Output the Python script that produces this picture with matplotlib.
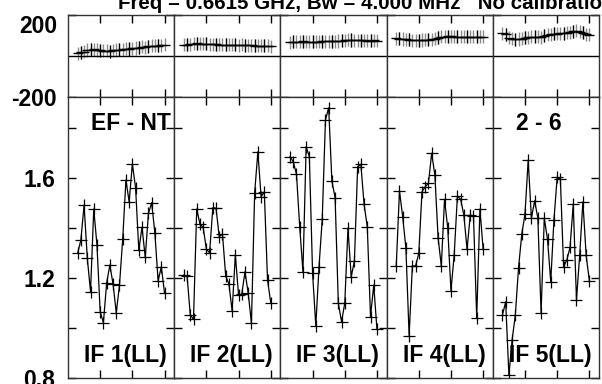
import numpy as np
import matplotlib
matplotlib.use("Agg")
import matplotlib.pyplot as plt

plt.rcParams['font.family'] = ['Liberation Sans', 'DejaVu Sans']
plt.rcParams['font.weight'] = 'bold'
plt.rcParams['axes.unicode_minus'] = False

title = "Freq = 0.6615 GHz, Bw = 4.000 MHz   No calibration applied"
baseline_label = ["EF - NT", "", "", "", "2 - 6"]
if_labels = ["IF 1(LL)", "IF 2(LL)", "IF 3(LL)", "IF 4(LL)", "IF 5(LL)"]

times = np.arange(28)

amp_if1 = [1.299, 1.352, 1.492, 1.279, 1.145, 1.476, 1.332, 1.065, 1.021, 1.179,
           1.252, 1.176, 1.061, 1.172, 1.356, 1.592, 1.505, 1.656, 1.561, 1.312,
           1.403, 1.283, 1.459, 1.501, 1.379, 1.189, 1.245, 1.139]
amp_if2 = [1.212, 1.208, 1.052, 1.035, 1.476, 1.416, 1.403, 1.315, 1.301, 1.481,
           1.479, 1.365, 1.376, 1.208, 1.176, 1.069, 1.292, 1.132, 1.136, 1.225,
           1.139, 1.019, 1.541, 1.705, 1.525, 1.545, 1.192, 1.101]
amp_if3 = [1.685, 1.665, 1.615, 1.405, 1.225, 1.725, 1.685, 1.219, 1.009, 1.245,
           1.436, 1.832, 1.881, 1.588, 1.521, 1.099, 1.025, 1.099, 1.399, 1.205,
           1.268, 1.645, 1.655, 1.495, 1.405, 1.045, 1.172, 0.995]
amp_if4 = [1.248, 1.548, 1.445, 1.319, 0.968, 1.248, 1.248, 1.299, 1.545, 1.565,
           1.579, 1.699, 1.612, 1.361, 1.248, 1.515, 1.399, 1.149, 1.292, 1.528,
           1.515, 1.452, 1.315, 1.452, 1.448, 1.039, 1.476, 1.315]
amp_if5 = [1.052, 1.105, 0.812, 0.952, 1.052, 1.241, 1.375, 1.456, 1.672, 1.439,
           1.509, 1.439, 1.061, 1.439, 1.355, 1.185, 1.432, 1.603, 1.595, 1.245,
           1.272, 1.323, 1.496, 1.112, 1.292, 1.505, 1.292, 1.189]

ph_if1 = [15, 18, 22, 30, 32, 34, 30, 28, 27, 26, 25, 28, 30, 32, 34, 36, 35, 38,
          40, 42, 45, 44, 48, 50, 52, 50, 54, 55]
ph_if2 = [55, 56, 58, 60, 62, 61, 60, 60, 59, 58, 58, 57, 57, 56, 56, 55, 55, 54,
          55, 54, 53, 53, 52, 52, 51, 50, 50, 49]
ph_if3 = [68, 70, 70, 71, 72, 71, 70, 70, 71, 71, 72, 72, 72, 73, 73, 74, 76, 78,
          80, 79, 78, 78, 77, 77, 76, 76, 77, 76]
ph_if4 = [88, 86, 84, 82, 80, 78, 77, 78, 79, 80, 81, 82, 86, 90, 95, 96, 98, 97,
          96, 95, 95, 94, 94, 95, 96, 95, 94, 95]
ph_if5 = [112, 108, 90, 85, 82, 84, 86, 90, 92, 94, 95, 94, 93, 100, 104, 108, 110,
          110, 111, 112, 114, 118, 122, 125, 120, 115, 108, 104]
ph_err = 32

amps = [amp_if1, amp_if2, amp_if3, amp_if4, amp_if5]
phases = [ph_if1, ph_if2, ph_if3, ph_if4, ph_if5]

W, H = 602, 384
fig = plt.figure(figsize=(W / 100, H / 100), dpi=100)

left_px, right_px = 68, 599
pw = (right_px - left_px) / 5
ph_top, ph_bot = 15.3, 97
amp_bot = 378

FS = 16.5
spine_col = '#333333'

for k in range(5):
    x0 = (left_px + k * pw) / W
    axp = fig.add_axes([x0, (H - ph_bot) / H, pw / W, (ph_bot - ph_top) / H])
    axa = fig.add_axes([x0, (H - amp_bot) / H, pw / W, (amp_bot - ph_bot) / H])

    # phase
    t = times
    p = np.array(phases[k])
    axp.errorbar(t, p, yerr=ph_err, fmt='none', ecolor='#8a8a8a', elinewidth=1.0)
    axp.errorbar(t[1::3], p[1::3], yerr=ph_err, fmt='none', ecolor='black', elinewidth=0.9)
    axp.errorbar(t, p, xerr=1.6, fmt='none', ecolor='black', elinewidth=1.0)
    axp.axhline(0, color='black', lw=1.0)
    axp.set_ylim(-200, 200)
    axp.set_xlim(-3, 30)
    axp.set_yticks([-200, 200])
    axp.set_xticks([7, 17, 27])

    # amplitude
    axa.plot(t, amps[k], color='black', lw=0.9, marker='+', markersize=8,
             markeredgewidth=0.9)
    axa.set_ylim(0.8, 0.8 + (amp_bot - ph_bot) / 250)
    axa.set_xlim(-3, 30)
    axa.set_yticks([0.8, 1.0, 1.2, 1.4, 1.6, 1.8])
    axa.set_yticklabels(['0.8', '', '1.2', '', '1.6', ''])
    axa.set_xticks([7, 17, 27])

    for ax in (axp, axa):
        ax.tick_params(direction='in', length=6, width=1, top=True, right=True,
                       labelbottom=False, labelsize=FS, colors='black')
        for s in ax.spines.values():
            s.set_color(spine_col)
            s.set_linewidth(1.0)
        if k > 0:
            ax.tick_params(labelleft=False)
    axp.tick_params(axis='y', pad=8)
    axa.tick_params(axis='y', pad=9)
    for lab in axp.get_yticklabels() + axa.get_yticklabels():
        lab.set_fontweight('bold')
    if k == 0:
        axp.get_yticklabels()[1].set_va('top')
        axp.get_yticklabels()[1].set_y(200)

    axa.text(0.15, 0.057, if_labels[k], transform=axa.transAxes, fontsize=FS,
             fontweight='bold', ha='left', va='baseline')
    if baseline_label[k]:
        axa.text(0.215, 0.883, baseline_label[k], transform=axa.transAxes,
                 fontsize=FS, fontweight='bold', ha='left', va='baseline')

fig.text(118 / W, (H - 9) / H, title, fontsize=14.8, fontweight='bold',
         ha='left', va='baseline')

fig.savefig('out.png', dpi=100)
